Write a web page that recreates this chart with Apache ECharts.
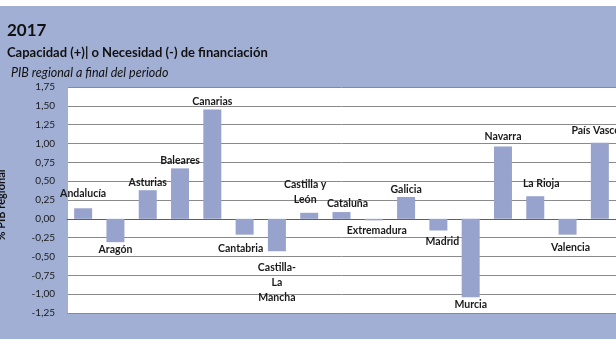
<!DOCTYPE html>
<html>
<head>
<meta charset="utf-8">
<script src="https://cdn.jsdelivr.net/npm/echarts@6/dist/echarts.min.js"></script>
<style>
  html, body { margin: 0; padding: 0; background: #ffffff; }
  #wrap { position: relative; width: 616px; height: 347px; overflow: hidden; background: #ffffff; }
  #band { position: absolute; left: 0; top: 6px; width: 616px; height: 333px; background: #A1AFD4; }
  #chart { position: absolute; left: 0; top: 0; width: 616px; height: 347px; }
</style>
</head>
<body>
<div id="wrap"><div id="band"></div><div id="chart"></div></div>
<script>
// ---- data ----
const regions = ['Andalucía', 'Aragón', 'Asturias', 'Baleares', 'Canarias', 'Cantabria',
  'Castilla-\nLa\nMancha', 'Castilla y\nLeón', 'Cataluña', 'Extremadura', 'Galicia', 'Madrid',
  'Murcia', 'Navarra', 'La Rioja', 'Valencia', 'País Vasco'];
const values = [0.14, -0.31, 0.38, 0.67, 1.45, -0.21, -0.43, 0.08, 0.09, -0.02, 0.29, -0.155,
  -1.04, 0.96, 0.30, -0.21, 1.01];
const yTicks = [-1.25, -1.00, -0.75, -0.50, -0.25, 0.00, 0.25, 0.50, 0.75, 1.00, 1.25, 1.50, 1.75];
const titleText = '2017';
const subtitleText = 'Capacidad (+)| o Necesidad (-) de financiación';
const noteText = 'PIB regional a final del periodo';
const yAxisTitle = '% PIB regional';

// ---- label nudges (layout only): [dx, extra distance] ----
const labelNudge = [[0, 7], [0, 0], [0, 0], [0, 0], [0, 0], [-4, 6], [0, 9], [-4, 6], [6, 1],
  [3, 3], [0, 0], [4, 4], [0, 0], [0, 2], [6, 5], [3, 5], [-4, 5]];

const FONT = 'Lato, "Open Sans", sans-serif';
const chart = echarts.init(document.getElementById('chart'), null, { renderer: 'canvas' });

const seriesData = values.map((v, i) => ({
  value: v,
  label: {
    show: true,
    position: v >= 0 ? 'top' : 'bottom',
    distance: labelNudge[i][1],
    offset: [labelNudge[i][0], 0],
    formatter: () => regions[i],
    color: '#1a1a1a',
    fontFamily: FONT,
    fontSize: 10.5,
    fontWeight: 'bold',
    lineHeight: 15,
    align: 'center'
  }
}));

chart.setOption({
  animation: false,
  backgroundColor: 'transparent',
  textStyle: { fontFamily: FONT },
  title: [
    { text: titleText, left: 2, top: 17, textStyle: { fontFamily: FONT, fontSize: 17, fontWeight: 'bold', color: '#111' } },
    { text: subtitleText, left: 2, top: 41, textStyle: { fontFamily: FONT, fontSize: 13, fontWeight: 'bold', color: '#111' } },
    { text: noteText, left: 6, top: 61, textStyle: { fontFamily: FONT, fontSize: 12.5, fontStyle: 'italic', fontWeight: 'normal', color: '#111' } }
  ],
  graphic: [
    { type: 'text', x: 1, y: 205, rotation: Math.PI / 2,
      style: { text: yAxisTitle, font: 'bold 11px ' + FONT, fill: '#111', textAlign: 'center', textVerticalAlign: 'middle' } }
  ],
  grid: { left: 67, top: 87, width: 551, height: 226, show: true, backgroundColor: '#ffffff', borderWidth: 0 },
  xAxis: {
    type: 'category',
    data: regions,
    axisLabel: { show: false },
    axisTick: { show: false },
    axisLine: { show: true, onZero: true, lineStyle: { color: '#5a6070', width: 1 } }
  },
  yAxis: {
    type: 'value',
    min: yTicks[0],
    max: yTicks[yTicks.length - 1],
    interval: 0.25,
    axisLine: { show: true, lineStyle: { color: '#b0b0b0' } },
    axisTick: { show: false },
    splitLine: { show: true, lineStyle: { color: '#8a8a8a', width: 1 } },
    axisLabel: {
      fontFamily: FONT, fontSize: 10, color: '#1a1a1a', margin: 12,
      formatter: v => v.toFixed(2).replace('.', ',')
    }
  },
  series: [{
    type: 'bar',
    data: seriesData,
    barWidth: 18,
    itemStyle: { color: '#97A3CC' }
  }]
});
</script>
</body>
</html>
